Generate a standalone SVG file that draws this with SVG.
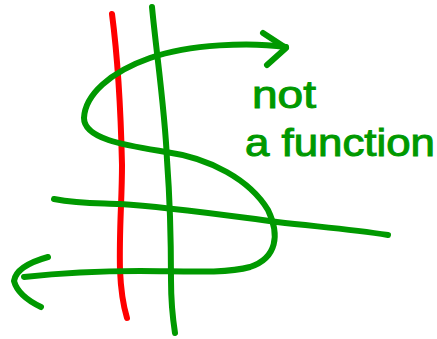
<svg xmlns="http://www.w3.org/2000/svg" width="437" height="339" viewBox="0 0 437 339">
<style>
.g{fill:none;stroke:#009900;stroke-width:6;stroke-linecap:round;stroke-linejoin:round}
.r{fill:none;stroke:#ff0000;stroke-width:6;stroke-linecap:round}
.t{font-family:"Liberation Sans",Arial,sans-serif;font-size:38px;fill:#009900;stroke:#009900;stroke-width:1}
</style>
<rect width="437" height="339" fill="#fff"/>
<g id="red-line"><path class="r" d="M112,14 C118,60 121,120 122,165 C122,200 119,230 120,270 C121,295 124,308 127,318"/></g>
<g id="green-line"><path class="g" d="M152,7 C156,50 165,110 167,160 C170,200 171,250 171,280 C171,305 173,320 175,333"/></g>
<g id="horizontal"><path class="g" d="M54,199 C80,204 100,203 120,204 C170,207 230,216 277,222 C320,227 350,229 388,235"/></g>
<g id="s-curve">
<path class="g" d="M286,47 C250,42 190,44 150,58 C110,72 85,95 84,118 C84,140 130,146 166,152 C210,158 250,180 268,210 C280,235 277,258 250,267 C225,274 180,271 140,271 C100,271 60,273 24,277"/>
<path class="g" d="M263,33 L286,48 L267,65"/>
<path class="g" d="M48,257 Q16,266 14,281 Q18,296 41,307"/>
</g>
<g id="label">
<text class="t" x="252" y="108" textLength="64" lengthAdjust="spacingAndGlyphs">not</text>
<text class="t" x="245" y="156" textLength="190" lengthAdjust="spacingAndGlyphs">a function</text>
</g>
</svg>
